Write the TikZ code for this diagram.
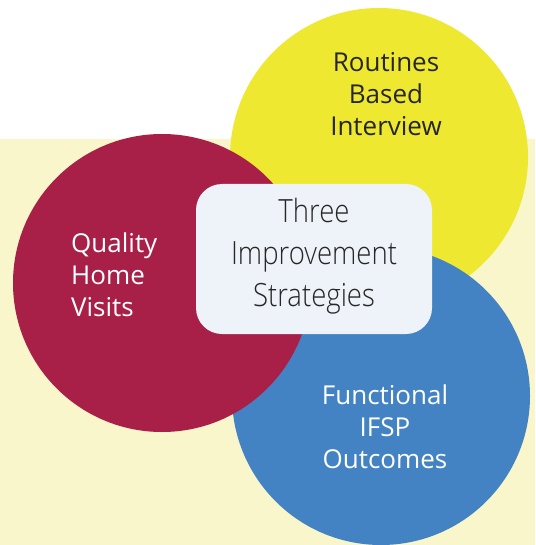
\documentclass[tikz,border=0pt]{standalone}
\usepackage{fontspec}
\setmainfont{Open Sans}
\newfontfamily\condfont[FakeStretch=0.86]{Open Sans Light}
\definecolor{bgyellow}{HTML}{F9F6CB}
\definecolor{cyellow}{HTML}{EEE830}
\definecolor{cred}{HTML}{A82048}
\definecolor{cblue}{HTML}{4383C4}
\definecolor{boxfill}{HTML}{EDF3F8}
\definecolor{textdark}{HTML}{262626}
\tikzset{
  bubble/.style={circle, minimum size=298pt, inner sep=0pt},
  lbl/.style={font=\fontsize{26}{32}\selectfont, align=center, inner sep=0pt},
}
\begin{document}
\begin{tikzpicture}[x=1pt,y=-1pt]
\useasboundingbox (0,0) rectangle (535,545);
\fill[bgyellow] (0,139) rectangle (535,545);
\node[bubble, fill=cyellow] (yc) at (379,157) {};
\node[bubble, fill=cblue] (bc) at (381,396) {};
\node[bubble, fill=cred] (rc) at (162,283) {};
\node[rounded corners=26pt, fill=boxfill, minimum width=236pt, minimum height=150pt, inner sep=0pt] (box) at (314,259) {};
\node[lbl, text=textdark] (t1) at (386,94) {Routines\\Based\\Interview};
\node[lbl, text=white, align=left, anchor=west] (t2) at (71,275) {Quality\\Home\\Visits};
\node[lbl, text=white] (t3) at (385,427) {Functional\\IFSP\\Outcomes};
\node[align=center, inner sep=0pt, text=textdark, font=\condfont\fontsize{32}{42}\selectfont] (t0) at (314,256) {Three\\Improvement\\Strategies};
\end{tikzpicture}
\end{document}
